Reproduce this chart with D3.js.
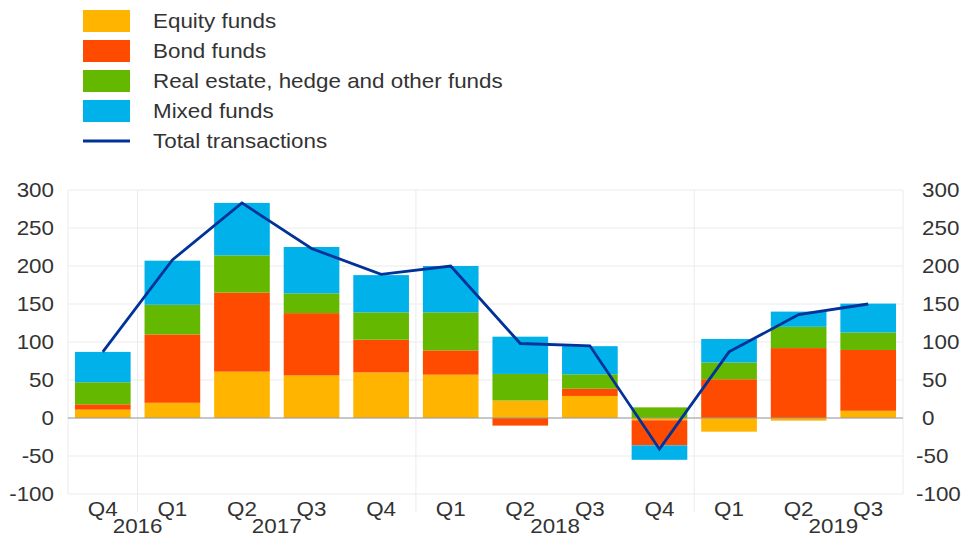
<!DOCTYPE html>
<html>
<head>
<meta charset="utf-8">
<script src="https://cdn.jsdelivr.net/npm/d3@7"></script>
<style>
  body { margin: 0; background: #fff; }
  svg text { font-family: 'Liberation Sans', Arial, sans-serif; fill: #333; }
</style>
</head>
<body>
<svg id="chart" width="964" height="537"></svg>
<script>
// quarters on the x axis
const quarters = ['Q4', 'Q1', 'Q2', 'Q3', 'Q4', 'Q1', 'Q2', 'Q3', 'Q4', 'Q1', 'Q2', 'Q3']
// year labels and where they sit, in band units from the left edge
const years = ['2016', '2017', '2018', '2019']
const yearAt = [1, 3, 7, 11]
// first band of each new year (for the separators)
const yearBreaks = [1, 5, 9]

const seriesNames = ['Equity funds', 'Bond funds', 'Real estate, hedge and other funds', 'Mixed funds']
const equity = [11, 20, 61, 56, 60, 57, 23, 29, -3, -18, -3.5, 9.5]
const bond = [7, 90, 104, 82, 43, 32, -10, 9.5, -33, 51, 92, 80]
const other = [29, 39, 49, 26, 36, 50, 35, 19, 14, 22, 28, 23]
const mixed = [40, 58, 69, 61, 49, 61, 49, 37, -19, 31, 20, 38]
const total = [87, 208, 283, 223, 189, 200, 98, 95, -41, 87, 136, 150]

const yTicks = [-100, -50, 0, 50, 100, 150, 200, 250, 300]

const colors = ['#ffb400', '#ff4b00', '#65b800', '#00b1ea']
const lineColor = '#003299'
const stretch = 'scale(1.12,1)'

const margin = { left: 68, right: 61, top: 190, bottom: 43 }
const width = 964
const height = 537

const svg = d3.select('#chart')

const rows = quarters.map((q, i) => ({
  i: i,
  s0: equity[i],
  s1: bond[i],
  s2: other[i],
  s3: mixed[i]
}))

const x = d3.scaleBand()
  .domain(d3.range(quarters.length))
  .range([margin.left, width - margin.right])
  .paddingInner(0.2)
  .paddingOuter(0.1)

const y = d3.scaleLinear()
  .domain([-100, 300])
  .range([height - margin.bottom, margin.top])

/**
 * Light grid, plot frame and the year separators.
 */
function drawGrid () {
  const g = svg.append('g')
  g.selectAll('line.h')
    .data(yTicks)
    .enter()
    .append('line')
    .attr('x1', margin.left)
    .attr('x2', width - margin.right)
    .attr('y1', d => y(d))
    .attr('y2', d => y(d))
    .attr('stroke', '#ebebeb')
    .attr('stroke-width', 1)

  g.selectAll('line.edge')
    .data([margin.left, width - margin.right])
    .enter()
    .append('line')
    .attr('x1', d => d)
    .attr('x2', d => d)
    .attr('y1', y(300))
    .attr('y2', y(-100))
    .attr('stroke', '#ebebeb')

  // separators between years, they go down into the label area
  g.selectAll('line.sep')
    .data(yearBreaks)
    .enter()
    .append('line')
    .attr('x1', d => x(d) - x.step() * x.paddingInner() / 2)
    .attr('x2', d => x(d) - x.step() * x.paddingInner() / 2)
    .attr('y1', y(300))
    .attr('y2', y(-100) + 18)
    .attr('stroke', '#ebebeb')
}

/**
 * Stacked bars, positives up and negatives down.
 */
function drawBars () {
  const stacked = d3.stack()
    .keys(['s0', 's1', 's2', 's3'])
    .offset(d3.stackOffsetDiverging)(rows)

  svg.append('g')
    .selectAll('g')
    .data(stacked)
    .enter()
    .append('g')
    .attr('fill', (d, i) => colors[i])
    .selectAll('rect')
    .data(d => d)
    .enter()
    .append('rect')
    .attr('x', d => x(d.data.i))
    .attr('width', x.bandwidth())
    .attr('y', d => y(Math.max(d[0], d[1])))
    .attr('height', d => Math.abs(y(d[0]) - y(d[1])))

  // zero line on top of the bars
  svg.append('line')
    .attr('x1', margin.left)
    .attr('x2', width - margin.right)
    .attr('y1', y(0))
    .attr('y2', y(0))
    .attr('stroke', '#999')
    .attr('stroke-width', 1)
}

/**
 * Total transactions line.
 */
function drawLine () {
  const line = d3.line()
    .x((d, i) => x(i) + x.bandwidth() / 2)
    .y(d => y(d))

  svg.append('path')
    .datum(total)
    .attr('d', line)
    .attr('fill', 'none')
    .attr('stroke', lineColor)
    .attr('stroke-width', 2.8)
}

/**
 * Both y axes and the two-level x axis labels.
 */
function drawAxes () {
  const g = svg.append('g').attr('font-size', 20)

  g.selectAll('text.yl')
    .data(yTicks)
    .enter()
    .append('text')
    .attr('text-anchor', 'end')
    .attr('transform', d => `translate(54,${y(d) + 7}) ${stretch}`)
    .text(d => d)

  g.selectAll('text.yr')
    .data(yTicks)
    .enter()
    .append('text')
    .attr('text-anchor', 'start')
    .attr('transform', d => `translate(${d < 0 ? 916 : 922},${y(d) + 7}) ${stretch}`)
    .text(d => d)

  g.selectAll('text.q')
    .data(quarters)
    .enter()
    .append('text')
    .attr('text-anchor', 'middle')
    .attr('transform', (d, i) => `translate(${x(i) + x.bandwidth() / 2},516) ${stretch}`)
    .text(d => d)

  g.selectAll('text.year')
    .data(years)
    .enter()
    .append('text')
    .attr('text-anchor', 'middle')
    .attr('transform', (d, i) => `translate(${margin.left + yearAt[i] * x.step()},533) ${stretch}`)
    .text(d => d)
}

/**
 * Legend at the top left.
 */
function drawLegend () {
  const g = svg.append('g').attr('font-size', 20)
  const items = seriesNames.concat(['Total transactions'])

  const item = g.selectAll('g')
    .data(items)
    .enter()
    .append('g')
    .attr('transform', (d, i) => `translate(0,${21 + i * 30})`)

  item.filter((d, i) => i < 4)
    .append('rect')
    .attr('x', 83)
    .attr('y', -11)
    .attr('width', 47)
    .attr('height', 22)
    .attr('fill', (d, i) => colors[i])

  item.filter((d, i) => i === 4)
    .append('line')
    .attr('x1', 83)
    .attr('x2', 130)
    .attr('stroke', lineColor)
    .attr('stroke-width', 2.8)

  item.append('text')
    .attr('transform', `translate(153,7) ${stretch}`)
    .text(d => d)
}

drawGrid()
drawBars()
drawLine()
drawAxes()
drawLegend()
</script>
</body>
</html>
